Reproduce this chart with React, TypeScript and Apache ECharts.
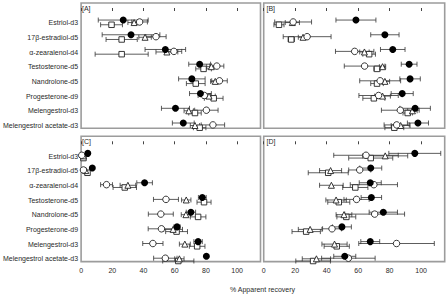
import React, { useEffect, useRef } from "react";
import * as echarts from "echarts";

// Compounds, top to bottom
const compounds = [
  "Estriol-d3",
  "17β-estradiol-d5",
  "α-zearalenol-d4",
  "Testosterone-d5",
  "Nandrolone-d5",
  "Progesterone-d9",
  "Melengestrol-d3",
  "Melengestrol acetate-d3",
];

const xTicks = [0, 20, 40, 60, 80, 100];
const panelNames = ["[A]", "[B]", "[C]", "[D]"];

// Mean recovery (%) and half-width of the error bar, per panel and per method
// Panel A
const aFilled = [27, 32, 54, 76, 71, 76.5, 60.5, 65.5];
const aFilledErr = [16, 18.5, 13, 7, 8.5, 7, 9, 7];
const aCircle = [37.5, 48, 59.5, 87, 88.7, 79, 80.3, 84.5];
const aCircleErr = [5, 6.5, 5, 4.5, 5, 4, 7.5, 7.5];
const aTriangle = [34, 41, 55, 83.5, 86, 82, 69, 73];
const aTriangleErr = [4, 4, 7, 3, 3, 4, 3, 3];
const aSquare = [19.5, 26, 26, 78.5, 73.5, 85, 73, 76];
const aSquareErr = [7, 10, 17, 5, 6, 6, 4, 4];

// Panel B
const bFilled = [58.6, 77, 82, 92.4, 93, 88, 96.2, 98];
const bFilledErr = [12.7, 9, 7.8, 5, 6.5, 7, 9.7, 6.7];
const bCircle = [18.7, 27.6, 57.8, 64.1, 74, 73, 86.8, 84.5];
const bCircleErr = [11.7, 15.2, 12.2, 12.9, 13, 12.5, 12, 8];
const bTriangle = [18.2, 25, 64, 75.5, 77, 75.5, 94.5, 87];
const bTriangleErr = [4.5, 3, 3, 2, 3, 5, 3, 6];
const bSquare = [9.7, 17.5, 67, 72, 72, 70, 91.5, 83];
const bSquareErr = [3.2, 2, 4, 2, 4, 7, 3, 6];

// Panel C
const cFilled = [4.3, 7.2, 40.7, 77.7, 70.4, 61.5, 75, 80.3];
const cFilledErr = [0.8, 0.8, 5, 2.5, 3, 2, 2.7, 0.5];
const cCircle = [0.4, 1.5, 16.3, 54.4, 51.1, 51.5, 46, 54];
const cCircleErr = [0.5, 0.5, 3.8, 8, 8, 8.5, 6.5, 7.5];
const cTriangle = [1.5, 3, 30, 67.4, 67.2, 59, 66.5, 63];
const cTriangleErr = [0.5, 0.5, 5, 3, 3, 6, 3.5, 3];
const cSquare = [1.5, 4.1, 28, 78.8, 75, 61.2, 74.4, 62.3];
const cSquareErr = [0.5, 0.5, 7.5, 4.5, 5, 7, 5, 10];

// Panel D
const dFilled = [96, 68, 67.7, 68.4, 76, 49.7, 67.7, 51.5];
const dFilledErr = [16.5, 7, 7, 6.5, 9, 6, 6, 7];
const dCircle = [65, 61, 70, 59, 70.5, 43.4, 84.4, 53.8];
const dCircleErr = [20.5, 7, 15, 8, 19, 6, 24, 17];
const dTriangle = [77.2, 42.5, 43, 46, 51, 29.5, 45, 33.5];
const dTriangleErr = [14.3, 7, 7.5, 6.5, 5, 7.5, 8, 9];
const dSquare = [68, 41, 58.2, 47.7, 52.5, 27, 46.4, 31.4];
const dSquareErr = [14, 12.7, 8, 7, 6, 9, 8, 11];

const panels = [
  { filled: [aFilled, aFilledErr], circle: [aCircle, aCircleErr], triangle: [aTriangle, aTriangleErr], square: [aSquare, aSquareErr] },
  { filled: [bFilled, bFilledErr], circle: [bCircle, bCircleErr], triangle: [bTriangle, bTriangleErr], square: [bSquare, bSquareErr] },
  { filled: [cFilled, cFilledErr], circle: [cCircle, cCircleErr], triangle: [cTriangle, cTriangleErr], square: [cSquare, cSquareErr] },
  { filled: [dFilled, dFilledErr], circle: [dCircle, dCircleErr], triangle: [dTriangle, dTriangleErr], square: [dSquare, dSquareErr] },
];

const FONT = "'Liberation Sans', Arial, sans-serif";
const INK = "#2a2a2a";

// Marker look and small vertical stagger of each method inside a row
const methods = [
  { key: "square", symbol: "rect", size: 5.5, fill: "#fff", offset: 0.14, z: 2 },
  { key: "triangle", symbol: "triangle", size: 6, fill: "#fff", offset: -0.01, z: 3 },
  { key: "circle", symbol: "circle", size: 6.5, fill: "#fff", offset: -0.05, z: 4 },
  { key: "filled", symbol: "circle", size: 7, fill: "#000", offset: -0.18, z: 5 },
] as const;

const gridBoxes = [
  { left: 79.5, top: 3, width: 181, height: 125.3 },
  { left: 263.7, top: 3, width: 181, height: 125.3 },
  { left: 79.5, top: 136.3, width: 181, height: 125.3 },
  { left: 263.7, top: 136.3, width: 181, height: 125.3 },
];

function errorBarRender(params: any, api: any) {
  const lo = api.coord([api.value(0), api.value(2)]);
  const hi = api.coord([api.value(1), api.value(2)]);
  const h = 2.5;
  const style = { stroke: "#333", lineWidth: 0.8, fill: null };
  return {
    type: "group",
    children: [
      { type: "line", shape: { x1: lo[0], y1: lo[1], x2: hi[0], y2: hi[1] }, style },
      { type: "line", shape: { x1: lo[0], y1: lo[1] - h, x2: lo[0], y2: lo[1] + h }, style },
      { type: "line", shape: { x1: hi[0], y1: hi[1] - h, x2: hi[0], y2: hi[1] + h }, style },
    ],
  };
}

function buildOption() {
  const grid = gridBoxes.map((g) => ({
    ...g,
    show: true,
    borderColor: "#9c9c9c",
    borderWidth: 1.6,
    backgroundColor: "transparent",
    containLabel: false,
  }));

  const xAxis = gridBoxes.map((_, i) => ({
    type: "value",
    gridIndex: i,
    min: 0,
    max: 115,
    axisLine: { show: false },
    splitLine: { show: false },
    axisTick: {
      show: true,
      customValues: xTicks,
      length: 3,
      lineStyle: { color: "#444", width: 1 },
    },
    axisLabel: {
      show: i >= 2,
      customValues: xTicks,
      margin: 5,
      fontSize: 7,
      fontFamily: FONT,
      color: INK,
    },
  }));

  const yAxis = gridBoxes.map((_, i) => ({
    type: "value",
    gridIndex: i,
    inverse: true,
    min: -0.34,
    max: 8.18,
    axisLine: { show: false },
    splitLine: { show: false },
    axisTick: { show: false },
    axisLabel: {
      show: i % 2 === 0,
      customValues: compounds.map((_, k) => k + 1),
      formatter: (v: number) => compounds[Math.round(v) - 1] ?? "",
      margin: 3,
      fontSize: 7,
      fontFamily: FONT,
      color: INK,
    },
  }));

  const series: any[] = [];
  panels.forEach((p: any, pi) => {
    methods.forEach((m) => {
      const [vals, errs] = p[m.key] as number[][];
      series.push({
        type: "custom",
        xAxisIndex: pi,
        yAxisIndex: pi,
        z: 1,
        renderItem: errorBarRender,
        encode: { x: [0, 1], y: 2 },
        data: vals.map((v, k) => [v - errs[k], v + errs[k], k + 1 + m.offset]),
        silent: true,
      });
    });
    methods.forEach((m) => {
      const [vals] = p[m.key] as number[][];
      series.push({
        type: "scatter",
        xAxisIndex: pi,
        yAxisIndex: pi,
        z: m.z,
        symbol: m.symbol,
        symbolSize: m.size,
        itemStyle: {
          color: m.fill,
          borderColor: "#222",
          borderWidth: m.fill === "#000" ? 0 : 0.9,
          opacity: 1,
        },
        data: vals.map((v, k) => [v, k + 1 + m.offset]),
        silent: true,
      });
    });
  });

  const labelPos = [
    [82, 8],
    [266.5, 8],
    [82, 141.5],
    [266.5, 141.5],
  ];
  const graphic: any[] = panelNames.map((t, i) => ({
    type: "text",
    x: labelPos[i][0],
    y: labelPos[i][1],
    style: {
      text: t,
      fontSize: 7,
      fontFamily: FONT,
      fill: INK,
      textVerticalAlign: "middle",
    },
  }));
  graphic.push({
    type: "text",
    x: 262.5,
    y: 289.5,
    style: {
      text: "% Apparent recovery",
      fontSize: 7,
      fontFamily: FONT,
      fill: INK,
      textAlign: "center",
      textVerticalAlign: "middle",
    },
  });

  return {
    animation: false,
    backgroundColor: "#fff",
    textStyle: { fontFamily: FONT },
    grid,
    xAxis,
    yAxis,
    series,
    graphic,
  };
}

export default function App() {
  const ref = useRef<HTMLDivElement>(null);
  useEffect(() => {
    document.body.style.margin = "0";
    if (!ref.current) return;
    const chart = echarts.init(ref.current, undefined, { renderer: "svg" });
    chart.setOption(buildOption() as any);
    return () => chart.dispose();
  }, []);
  return <div ref={ref} style={{ width: 447, height: 295 }} />;
}
